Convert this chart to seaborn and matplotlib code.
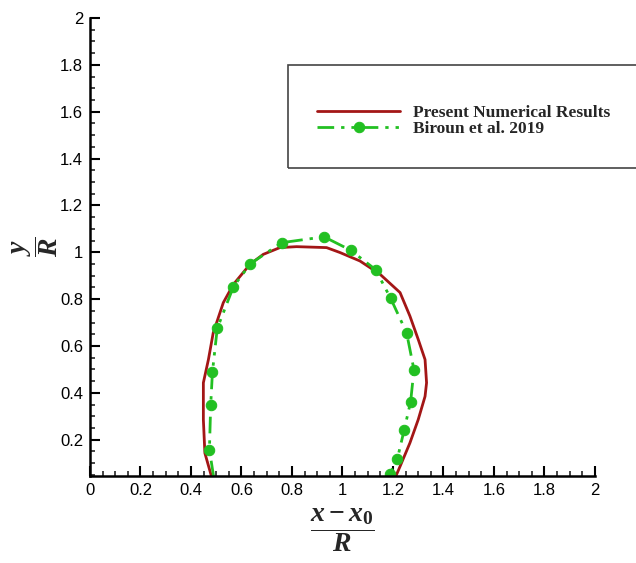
import numpy as np
import matplotlib
matplotlib.use("Agg")
import matplotlib.pyplot as plt
from matplotlib.patches import Rectangle
from matplotlib.ticker import MultipleLocator, FormatStrFormatter
import seaborn as sns

# present numerical results (red outline)
present_x = [0.482, 0.455, 0.449, 0.449, 0.469, 0.488, 0.528, 0.568, 0.634, 0.686,
             0.752, 0.818, 0.937, 0.990, 1.069, 1.149, 1.228, 1.267, 1.300, 1.327,
             1.333, 1.327, 1.300, 1.267, 1.228, 1.208]
present_y = [0.040, 0.143, 0.286, 0.443, 0.542, 0.656, 0.785, 0.863, 0.949, 0.991,
             1.020, 1.024, 1.020, 0.999, 0.963, 0.906, 0.828, 0.728, 0.628, 0.542,
             0.443, 0.385, 0.286, 0.186, 0.086, 0.036]

# Biroun et al. 2019 (green, dash-dot-dot with markers)
biroun_x = [0.490, 0.473, 0.478, 0.485, 0.504, 0.568, 0.635, 0.759, 0.927, 1.032,
            1.131, 1.191, 1.254, 1.283, 1.270, 1.244, 1.217, 1.188]
biroun_y = [0.040, 0.157, 0.347, 0.490, 0.675, 0.853, 0.951, 1.041, 1.066, 1.009,
            0.926, 0.803, 0.656, 0.499, 0.363, 0.240, 0.117, 0.055]

sns.set_style("ticks")
plt.rcParams["font.family"] = ["Liberation Sans", "DejaVu Sans"]
plt.rcParams["mathtext.fontset"] = "custom"
plt.rcParams["mathtext.it"] = "Liberation Serif:italic:bold"
plt.rcParams["mathtext.rm"] = "Liberation Serif:bold"
plt.rcParams["mathtext.bf"] = "Liberation Serif:bold"

fig = plt.figure(figsize=(6.36, 5.63), dpi=100)
ax = fig.add_axes([0.1415, 0.1545, 0.794, 0.8135])

red = "#a31616"
green = "#22c022"

sns.lineplot(x=present_x, y=present_y, sort=False, estimator=None, ax=ax,
             color=red, linewidth=2, label="Present Numerical Results")
sns.lineplot(x=biroun_x, y=biroun_y, sort=False, estimator=None, ax=ax,
             color=green, linewidth=2, linestyle=(0, (6, 2.5, 1.2, 2.5, 1.2, 2.5)),
             marker="o", markersize=7.5, markeredgecolor=green,
             markevery=list(range(1, len(biroun_x))), label="Biroun et al. 2019")

ax.set_xlim(0, 2)
ax.set_ylim(0.045, 2)
ax.xaxis.set_major_locator(MultipleLocator(0.2))
ax.xaxis.set_minor_locator(MultipleLocator(0.05))
ax.yaxis.set_major_locator(MultipleLocator(0.2))
ax.yaxis.set_minor_locator(MultipleLocator(0.05))
ax.xaxis.set_major_formatter(FormatStrFormatter("%g"))
ax.yaxis.set_major_formatter(FormatStrFormatter("%g"))
ax.tick_params(which="major", direction="in", length=7, width=1.5, labelsize=12, pad=5,
               colors="black")
ax.tick_params(which="minor", direction="in", length=3.5, width=1.2)
for s in ["top", "right"]:
    ax.spines[s].set_visible(False)
for s in ["left", "bottom"]:
    ax.spines[s].set_linewidth(1.8)
    ax.spines[s].set_color("black")

ax.set_xlabel(r"$\dfrac{x-x_0}{R}$", fontsize=20, labelpad=6)
ax.set_ylabel(r"$\dfrac{y}{R}$", fontsize=20, labelpad=0)

# legend box (runs off the right edge like the original)
fig.patches.append(Rectangle((0.453, 0.7016), 0.6, 0.183, transform=fig.transFigure,
                             fill=False, edgecolor="#444444", linewidth=1.2))
ax.get_legend().remove()
handles, labels = ax.get_legend_handles_labels()
fig.legend(handles, labels, loc="upper left", bbox_to_anchor=(0.485, 0.8285),
           frameon=False, handlelength=4.8, handletextpad=0.75, labelspacing=-0.05,
           borderpad=0, prop={"family": "Liberation Serif", "weight": "bold", "size": 12.5})

fig.savefig("out.png", dpi=100)
